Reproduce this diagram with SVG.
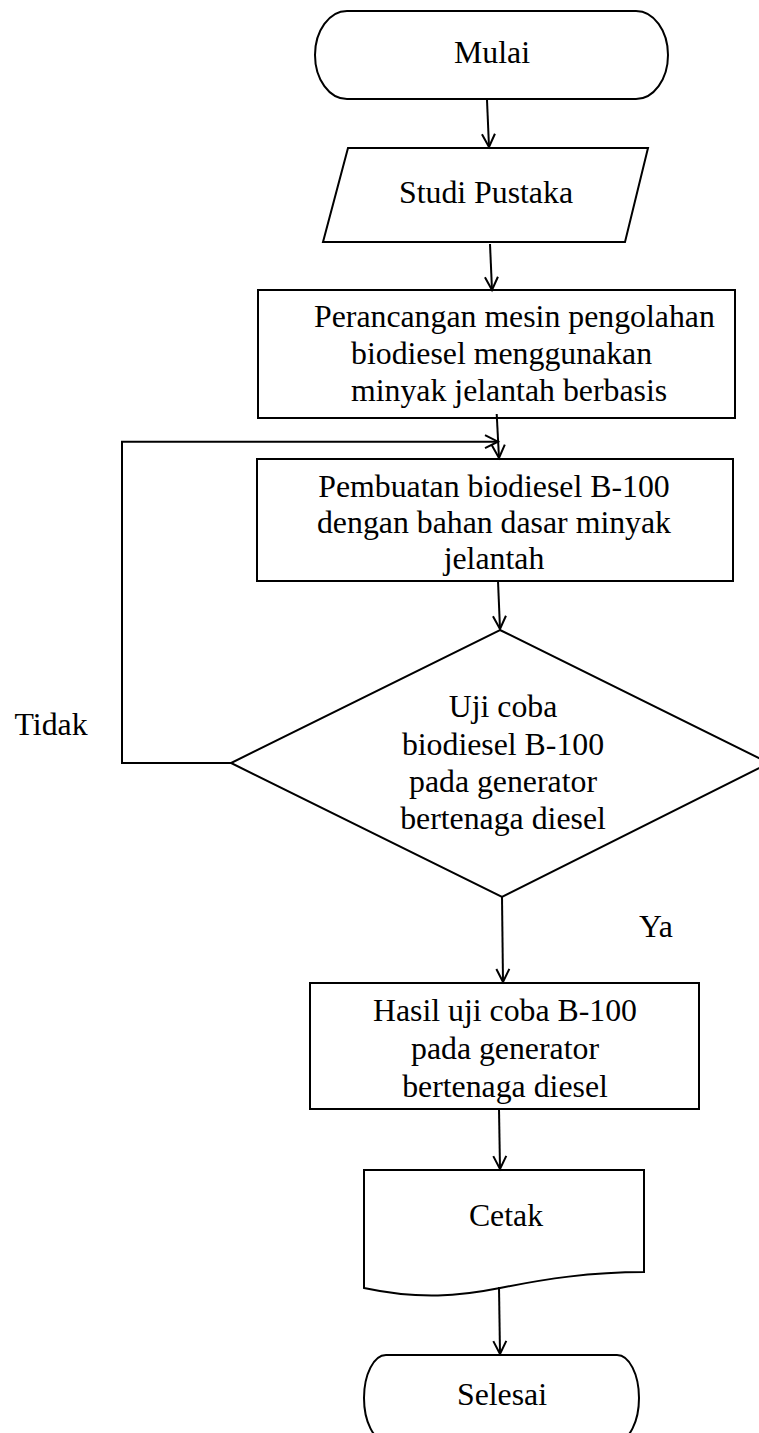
<svg xmlns="http://www.w3.org/2000/svg" width="759" height="1433" viewBox="0 0 759 1433">
<style>
.shape{fill:#fff;stroke:#000;stroke-width:2}
.conn{fill:none;stroke:#000;stroke-width:2}
.t{font-family:"Liberation Serif","Times New Roman",serif;font-size:31.8px;fill:#000}
.c{text-anchor:middle}
</style>
<defs>
<marker id="arr" markerUnits="userSpaceOnUse" markerWidth="20" markerHeight="20" viewBox="-16 -10 20 20" refX="0" refY="0" orient="auto">
<path d="M-13,-6.5 L0,0 L-13,6.5" fill="none" stroke="#000" stroke-width="2"/>
</marker>
</defs>
<rect width="759" height="1433" fill="#fff"/>
<g id="start">
<rect class="shape" x="315" y="11" width="353" height="88" rx="32" ry="44"/>
<text class="t c" x="492" y="63">Mulai</text>
</g>
<g id="studi">
<polygon class="shape" points="348,148 648,148 625,242 323,242"/>
<text class="t c" x="486" y="203">Studi Pustaka</text>
</g>
<g id="perancangan">
<rect class="shape" x="258" y="290" width="477" height="128"/>
<text class="t" x="314" y="327">Perancangan mesin pengolahan</text>
<text class="t" x="351" y="364">biodiesel menggunakan</text>
<text class="t" x="351" y="401">minyak jelantah berbasis</text>
</g>
<g id="pembuatan">
<rect class="shape" x="257" y="459" width="476" height="122"/>
<text class="t c" x="494" y="497">Pembuatan biodiesel B-100</text>
<text class="t c" x="494" y="533">dengan bahan dasar minyak</text>
<text class="t c" x="494" y="569">jelantah</text>
</g>
<g id="ujicoba">
<polygon class="shape" points="500,630 769,763 502,897 231,763"/>
<text class="t c" x="503" y="717">Uji coba</text>
<text class="t c" x="503" y="755">biodiesel B-100</text>
<text class="t c" x="503" y="792">pada generator</text>
<text class="t c" x="503" y="829">bertenaga diesel</text>
</g>
<g id="hasil">
<rect class="shape" x="310" y="983" width="389" height="126"/>
<text class="t c" x="505" y="1021">Hasil uji coba B-100</text>
<text class="t c" x="505" y="1059">pada generator</text>
<text class="t c" x="505" y="1097">bertenaga diesel</text>
</g>
<g id="cetak">
<path class="shape" d="M364,1170 H644 V1272 C590,1272 545,1279 500,1288 C460,1296 420,1300 364,1288 Z"/>
<text class="t c" x="506" y="1226">Cetak</text>
</g>
<g id="selesai">
<rect class="shape" x="364" y="1355" width="275" height="86" rx="22" ry="43"/>
<text class="t c" x="502" y="1405">Selesai</text>
</g>
<g id="connectors">
<line class="conn" x1="487" y1="100" x2="489" y2="147" marker-end="url(#arr)"/>
<line class="conn" x1="490" y1="244" x2="492" y2="290" marker-end="url(#arr)"/>
<line class="conn" x1="496.7" y1="414" x2="499" y2="458" marker-end="url(#arr)"/>
<line class="conn" x1="498" y1="581" x2="500" y2="629" marker-end="url(#arr)"/>
<polyline class="conn" points="231,763 122,763 122,441.7"/>
<line class="conn" x1="121" y1="441.7" x2="498" y2="441.7" stroke-width="3" marker-end="url(#arr)"/>
<line class="conn" x1="502" y1="897" x2="503" y2="982" marker-end="url(#arr)"/>
<line class="conn" x1="499" y1="1109" x2="500" y2="1169" marker-end="url(#arr)"/>
<line class="conn" x1="499" y1="1287" x2="500" y2="1354" marker-end="url(#arr)"/>
<text class="t" x="14.5" y="735">Tidak</text>
<text class="t" x="639" y="937">Ya</text>
</g>
</svg>
